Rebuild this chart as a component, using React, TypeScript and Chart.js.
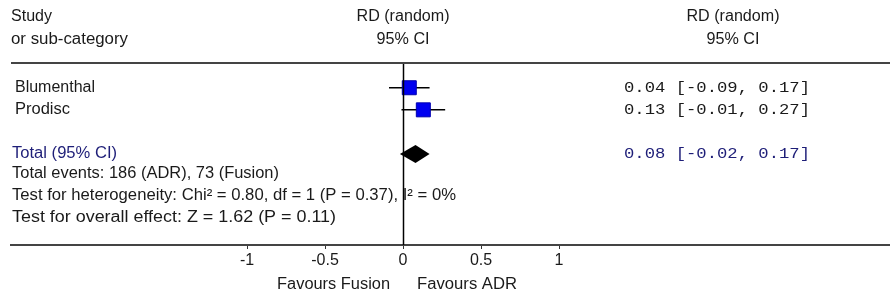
import React, { useEffect, useRef } from "react";
import { Chart, registerables } from "chart.js";

Chart.register(...registerables);

const STUDIES = ["Blumenthal", "Prodisc"];
const RD = [0.04, 0.13];
const CI_LO = [-0.09, -0.01];
const CI_HI = [0.17, 0.27];
const STUDY_ROWS = [1, 2];

const TOTAL_LABEL = "Total (95% CI)";
const TOTAL_RD = 0.08;
const TOTAL_LO = -0.02;
const TOTAL_HI = 0.17;
const TOTAL_ROW = 4;

const TICKS = [-1, -0.5, 0, 0.5, 1];
const FOOTER = [
  "Total events: 186 (ADR), 73 (Fusion)",
  "Test for heterogeneity: Chi\u00b2 = 0.80, df = 1 (P = 0.37), I\u00b2 = 0%",
  "Test for overall effect: Z = 1.62 (P = 0.11)",
];
const FAVOURS_LEFT = "Favours Fusion";
const FAVOURS_RIGHT = "Favours ADR";

// rendered widths of text runs (style)
const TEXT_WIDTH: Record<string, number> = {
  "Study": 41,
  "or sub-category": 117,
  "RD (random)": 93,
  "95% CI": 53,
  "Blumenthal": 80,
  "Prodisc": 55,
  "Total (95% CI)": 105,
  "Total events: 186 (ADR), 73 (Fusion)": 267,
  "Test for heterogeneity: Chi\u00b2 = 0.80, df = 1 (P = 0.37), I\u00b2 = 0%": 444,
  "Test for overall effect: Z = 1.62 (P = 0.11)": 324,
  "Favours Fusion": 113,
  "Favours ADR": 100,
};
const MONO_WIDTH = 186;

const W = 891;
const H = 301;
const SANS = "'Liberation Sans', Arial, sans-serif";
const MONO = "'Liberation Mono', 'Courier New', monospace";
const NAVY = "#1e1e78";
const TEXT = "#1a1a1a";
const RULE_RIGHT = 890;

const fmt = (v: number) => v.toFixed(2);
const ciText = (e: number, lo: number, hi: number) => `${fmt(e)} [${fmt(lo)}, ${fmt(hi)}]`;

function fitText(ctx: CanvasRenderingContext2D, text: string, x: number, y: number, align: "left" | "center" | "right", width?: number) {
  const m = ctx.measureText(text).width;
  const s = width && m > 0 ? width / m : 1;
  ctx.save();
  ctx.translate(x, y);
  ctx.scale(s, 1);
  ctx.textAlign = align;
  ctx.fillText(text, 0, 0);
  ctx.restore();
}

const forestPlugin = {
  id: "forest",
  afterDatasetsDraw(chart: any) {
    const { ctx, chartArea, scales } = chart;
    const xs = scales.x;
    const ys = scales.y;
    ctx.save();
    const x0 = Math.round(xs.getPixelForValue(0)) + 0.5;
    ctx.strokeStyle = "#000";
    ctx.lineWidth = 1.5;
    ctx.beginPath();
    ctx.moveTo(x0, chartArea.top);
    ctx.lineTo(x0, chartArea.bottom);
    ctx.stroke();
    ctx.strokeStyle = "#444";
    ctx.lineWidth = 2;
    ctx.beginPath();
    ctx.moveTo(chartArea.left, chartArea.top - 1);
    ctx.lineTo(RULE_RIGHT, chartArea.top - 1);
    ctx.stroke();
    // extend the axis rule to the right edge like the header rule
    ctx.beginPath();
    ctx.moveTo(chartArea.right - 1, chartArea.bottom);
    ctx.lineTo(RULE_RIGHT, chartArea.bottom);
    ctx.stroke();
    const yT = ys.getPixelForValue(TOTAL_ROW);
    const half = 9;
    ctx.fillStyle = "#000";
    ctx.beginPath();
    ctx.moveTo(xs.getPixelForValue(TOTAL_LO), yT);
    ctx.lineTo(xs.getPixelForValue(TOTAL_RD), yT - half);
    ctx.lineTo(xs.getPixelForValue(TOTAL_HI), yT);
    ctx.lineTo(xs.getPixelForValue(TOTAL_RD), yT + half);
    ctx.closePath();
    ctx.fill();
    ctx.restore();
  },
  afterDraw(chart: any) {
    const { ctx, chartArea, scales } = chart;
    const xs = scales.x;
    const ys = scales.y;
    const x0 = xs.getPixelForValue(0);
    const left = chartArea.left;
    const valX = 624;
    const rightCenter = 733;
    const sans = `16px ${SANS}`;
    const mono = `15px ${MONO}`;
    ctx.save();
    ctx.textBaseline = "middle";
    ctx.font = sans;
    ctx.fillStyle = TEXT;
    fitText(ctx, "Study", left, 17, "left", TEXT_WIDTH["Study"]);
    fitText(ctx, "or sub-category", left, 40, "left", TEXT_WIDTH["or sub-category"]);
    fitText(ctx, "RD (random)", x0, 17, "center", TEXT_WIDTH["RD (random)"]);
    fitText(ctx, "95% CI", x0, 40, "center", TEXT_WIDTH["95% CI"]);
    fitText(ctx, "RD (random)", rightCenter, 17, "center", TEXT_WIDTH["RD (random)"]);
    fitText(ctx, "95% CI", rightCenter, 40, "center", TEXT_WIDTH["95% CI"]);
    STUDIES.forEach((s, i) => {
      const y = ys.getPixelForValue(STUDY_ROWS[i]);
      ctx.font = sans;
      ctx.fillStyle = TEXT;
      fitText(ctx, s, left + 4, y, "left", TEXT_WIDTH[s]);
      ctx.font = mono;
      fitText(ctx, ciText(RD[i], CI_LO[i], CI_HI[i]), valX, y, "left", MONO_WIDTH);
    });
    const yT = ys.getPixelForValue(TOTAL_ROW);
    ctx.fillStyle = NAVY;
    ctx.font = sans;
    fitText(ctx, TOTAL_LABEL, left + 1, yT, "left", TEXT_WIDTH[TOTAL_LABEL]);
    ctx.font = mono;
    fitText(ctx, ciText(TOTAL_RD, TOTAL_LO, TOTAL_HI), valX, yT, "left", MONO_WIDTH);
    ctx.fillStyle = TEXT;
    ctx.font = sans;
    FOOTER.forEach((t, i) => {
      fitText(ctx, t, left + 1, 174 + i * 22, "left", TEXT_WIDTH[t]);
    });
    fitText(ctx, FAVOURS_LEFT, x0 - 13, 285, "right", TEXT_WIDTH[FAVOURS_LEFT]);
    fitText(ctx, FAVOURS_RIGHT, x0 + 14, 285, "left", TEXT_WIDTH[FAVOURS_RIGHT]);
    ctx.restore();
  },
};

export default function App() {
  const ref = useRef<HTMLCanvasElement | null>(null);
  useEffect(() => {
    if (!ref.current) return;
    const squares = {
      type: "scatter",
      data: STUDIES.map((_, i) => ({ x: RD[i], y: STUDY_ROWS[i] })),
      pointStyle: "rect",
      pointRadius: 9.9,
      backgroundColor: "#0000f0",
      borderColor: "#0000b0",
      borderWidth: 1,
      showLine: false,
    };
    const whiskers = STUDIES.map((_, i) => ({
      type: "scatter",
      data: [
        { x: CI_LO[i], y: STUDY_ROWS[i] },
        { x: CI_HI[i], y: STUDY_ROWS[i] },
      ],
      showLine: true,
      borderColor: "#000",
      borderWidth: 1.5,
      pointRadius: 0,
    }));
    const chart = new Chart(ref.current, {
      type: "scatter",
      data: { datasets: [squares, ...whiskers] as any },
      options: {
        animation: false,
        responsive: false,
        devicePixelRatio: 1,
        layout: { padding: { top: 64, left: 11, right: 0, bottom: 0 } },
        plugins: { legend: { display: false }, tooltip: { enabled: false } },
        scales: {
          x: {
            type: "linear",
            min: -2.5128,
            max: 3.0577,
            afterBuildTicks: (s: any) => {
              s.ticks = TICKS.map((v) => ({ value: v }));
            },
            afterFit: (s: any) => {
              s.height = 56;
            },
            grid: { drawOnChartArea: false, drawTicks: true, tickLength: 4, tickColor: "#333", lineWidth: 1 },
            border: { display: true, color: "#444", width: 2 },
            ticks: {
              padding: 2,
              color: TEXT,
              font: { family: SANS, size: 16 },
              callback: (v: any) => String(v),
              autoSkip: false,
              maxRotation: 0,
            },
          },
          y: {
            type: "linear",
            display: false,
            reverse: true,
            min: -0.075,
            max: 8.12,
          },
        },
      },
      plugins: [forestPlugin],
    } as any);
    return () => chart.destroy();
  }, []);
  return (
    <div style={{ position: "fixed", left: 0, top: 0, width: W, height: H, background: "#fff" }}>
      <canvas ref={ref} width={W} height={H} style={{ display: "block", width: W, height: H }} />
    </div>
  );
}
